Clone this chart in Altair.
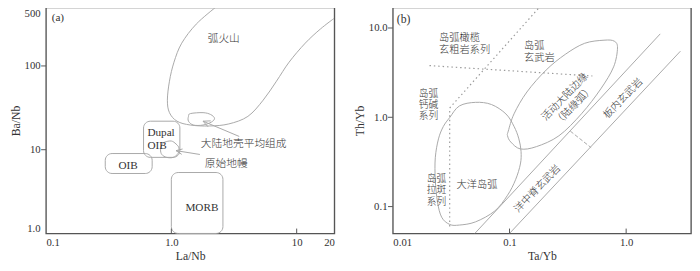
import altair as alt
import pandas as pd

SERIF = "Liberation Serif"
CJK = "Noto Sans CJK SC"
CJK_STACK = "Liberation Serif, Noto Sans CJK SC"
CURVE = "#a8a8a8"
DOT = "#9a9a9a"
INK = "#333333"
FRAME = "#555555"

W_A, W_B, H = 296, 306, 232

# ---------------- panel (a): La/Nb vs Ba/Nb ----------------
a_xdomain = [0.1, 20]
a_ydomain = [1, 500]
a_xticks = [0.1, 1, 10, 20]
a_xlabels = ["0.1", "1.0", "10", "20"]
a_yticks = [1, 10, 100, 500]
a_ylabels = ["1.0", "10", "100", "500"]
a_xmarks = [1, 10]
a_ymarks = [10, 100]

# arc volcanics field (open curve)
arc_x = [2.25, 1.58, 1.21, 1.05, 0.966, 0.93, 0.966, 1.11, 1.42, 2.02, 2.87, 4.08, 5.4, 6.9, 8.7, 11.7, 15.5, 19.9]
arc_y = [500, 316, 187, 111, 65.8, 39, 27.7, 21.9, 19.7, 19.2, 20.3, 25, 39, 65.8, 111, 187, 277, 370]

# average continental crust loop (closed)
crust_x = [1.42, 1.79, 2.06, 2.21, 2.09, 1.79, 1.50, 1.37, 1.37]
crust_y = [27.0, 27.7, 26.3, 23.7, 21.4, 19.7, 19.7, 21.9, 25.0]

# primitive mantle loop (closed)
mantle_x = [0.885, 1.0, 1.09, 1.15, 1.13, 1.035, 0.916, 0.839, 0.82, 0.839]
mantle_y = [12.3, 12.7, 11.7, 10.5, 9.0, 8.1, 8.1, 8.77, 10.0, 11.4]

# rounded boxes
box_names = ["Dupal OIB", "OIB", "MORB"]
box_x1 = [0.60, 0.297, 1.0]
box_x2 = [1.17, 0.703, 2.58]
box_y1 = [8.1, 5.2, 1.0]
box_y2 = [21.9, 9.0, 5.34]

# arrows (head polyline + shaft)
crust_head_x = [1.96, 1.79, 2.06]
crust_head_y = [18.8, 21.9, 22.1]
crust_shaft_x = [1.79, 3.48]
crust_shaft_y = [21.9, 14.4]
mantle_head_x = [1.21, 1.09, 1.23]
mantle_head_y = [8.8, 9.75, 10.2]
mantle_shaft_x = [1.09, 1.69]
mantle_shaft_y = [9.75, 8.77]

a_cjk_text = ["弧火山", "大陆地壳平均组成", "原始地幔"]
a_cjk_x = [1.95, 1.72, 1.85]
a_cjk_y = [208, 11.7, 6.76]

a_lat_text = ["(a)", "Dupal\nOIB", "OIB", "MORB"]
a_lat_x = [0.111, 0.644, 0.378, 1.295]
a_lat_y = [370, 15.6, 6.41, 2.03]

# ---------------- panel (b): Ta/Yb vs Th/Yb ----------------
b_xdomain = [0.01, 3.6]
b_ydomain = [0.05, 17]
b_xticks = [0.01, 0.1, 1]
b_xlabels = ["0.01", "0.1", "1.0"]
b_yticks = [0.1, 1, 10]
b_ylabels = ["0.1", "1.0", "10.0"]
b_xmarks = [0.1, 1]
b_ymarks = [0.1, 1, 10]

ocean_x = [0.0307, 0.0372, 0.0511, 0.070, 0.0932, 0.1094, 0.1203, 0.1256, 0.124, 0.1127, 0.0962,
           0.0748, 0.0511, 0.0372, 0.0307, 0.0262, 0.0241, 0.0231, 0.0231, 0.0246, 0.0271]
ocean_y = [0.993, 1.34, 1.47, 1.39, 1.09, 0.79, 0.573, 0.415, 0.300, 0.200, 0.134,
           0.0893, 0.0674, 0.0621, 0.0631, 0.076, 0.1137, 0.2, 0.352, 0.573, 0.79]

margin_x = [0.0962, 0.1025, 0.124, 0.170, 0.2655, 0.414, 0.606, 0.781, 0.843, 0.791, 0.646,
            0.441, 0.301, 0.206, 0.141, 0.1094, 0.0976]
margin_y = [0.621, 0.529, 0.442, 0.469, 0.621, 1.094, 2.08, 3.67, 5.97, 7.12, 7.30,
            6.74, 5.07, 3.38, 1.92, 1.094, 0.70]

# straight boundaries
lineA_x = [0.0504, 1.96]
lineA_y = [0.05, 8.59]
lineB_x = [0.1, 2.92]
lineB_y = [0.05, 5.5]
perp_x = [0.332, 0.501]
perp_y = [0.70, 0.457]
dotv_x = [0.0307, 0.0307, 0.18]
dotv_y = [0.060, 1.27, 17]
doth_x = [0.0206, 0.514]
doth_y = [3.79, 2.90]

b_cjk_text = ["岛弧橄榄\n玄粗岩系列", "岛弧\n玄武岩"]
b_cjk_x = [0.0249, 0.133]
b_cjk_y = [7.76, 6.31]

b_single_text = ["大洋岛弧"]
b_single_x = [0.0351]
b_single_y = [0.175]

b_stack_text = ["岛弧\n钙碱\n系列", "岛弧\n拉斑\n系列"]
b_stack_x = [0.0167, 0.0195]
b_stack_y = [1.82, 0.202]

b_rot_text = ["活动大陆边缘\n（陆缘弧）", "板内玄武岩", "洋中脊玄武岩"]
b_rot_x = [0.299, 0.944, 0.174]
b_rot_y = [1.69, 1.62, 0.158]

b_lat_text = ["(b)"]
b_lat_x = [0.0108]
b_lat_y = [12.7]


def label_expr(vals, labels):
    parts = [f"datum.value == {v} ? '{l}'" for v, l in zip(vals, labels)]
    return " : ".join(parts) + " : ''"


def make_enc(xdom, ydom, xt, xl, yt, yl, xtitle, ytitle):
    ax = dict(grid=False, domain=False, ticks=False, labelFont=SERIF, labelFontSize=11,
              titleFont=SERIF, titleFontSize=12, titleFontWeight="normal",
              labelColor=INK, titleColor=INK)
    X = alt.X("x:Q", scale=alt.Scale(type="log", domain=xdom, nice=False),
              axis=alt.Axis(values=xt, labelExpr=label_expr(xt, xl), title=xtitle,
                            labelFlush=True, labelPadding=3, titlePadding=4, **ax))
    Y = alt.Y("y:Q", scale=alt.Scale(type="log", domain=ydom, nice=False),
              axis=alt.Axis(values=yt, labelExpr=label_expr(yt, yl), title=ytitle,
                            labelFlush=True, labelPadding=6, titlePadding=2, **ax))
    return X, Y


def poly_df(shapes):
    rows = []
    for g, (xs, ys) in enumerate(shapes):
        for i, (x, y) in enumerate(zip(xs, ys)):
            rows.append({"g": g, "o": i, "x": x, "y": y})
    return pd.DataFrame(rows)


def text_layer(X, Y, texts, xs, ys, font, size, align="left", angle=0, weight="normal", lh=12):
    df = pd.DataFrame({"t": texts, "x": xs, "y": ys})
    return alt.Chart(df).mark_text(font=font, fontSize=size, align=align, baseline="middle",
                                   angle=angle, color=INK, fontWeight=weight,
                                   lineBreak="\n", lineHeight=lh).encode(
        x=X, y=Y, text="t:N")


def tick_layers(X, Y, xm, ym, h):
    xt = alt.Chart(pd.DataFrame({"x": xm})).mark_rule(color=FRAME, strokeWidth=1).encode(
        x=X, y=alt.value(h - 5), y2=alt.value(h))
    yt = alt.Chart(pd.DataFrame({"y": ym})).mark_rule(color=FRAME, strokeWidth=1).encode(
        y=Y, x=alt.value(-5), x2=alt.value(0))
    return xt, yt


# ---------- build panel (a) ----------
XA, YA = make_enc(a_xdomain, a_ydomain, a_xticks, a_xlabels, a_yticks, a_ylabels, "La/Nb", "Ba/Nb")

a_open = alt.Chart(poly_df([(arc_x, arc_y)])).mark_line(
    interpolate="cardinal", color=CURVE, strokeWidth=1, clip=True).encode(
    x=XA, y=YA, detail="g:N", order="o:Q")
a_closed = alt.Chart(poly_df([(crust_x, crust_y), (mantle_x, mantle_y)])).mark_line(
    interpolate="cardinal-closed", color=CURVE, strokeWidth=1, clip=True).encode(
    x=XA, y=YA, detail="g:N", order="o:Q")
a_arrows = alt.Chart(poly_df([(crust_head_x, crust_head_y), (crust_shaft_x, crust_shaft_y),
                              (mantle_head_x, mantle_head_y), (mantle_shaft_x, mantle_shaft_y)])).mark_line(
    color=CURVE, strokeWidth=1).encode(x=XA, y=YA, detail="g:N", order="o:Q")
a_boxes = alt.Chart(pd.DataFrame({"n": box_names, "x": box_x1, "x2": box_x2, "y": box_y1, "y2": box_y2})).mark_rect(
    filled=False, color=CURVE, strokeWidth=1, cornerRadius=7).encode(
    x=XA, x2="x2:Q", y=YA, y2="y2:Q")
a_xt, a_yt = tick_layers(XA, YA, a_xmarks, a_ymarks, H)

panel_a = alt.layer(
    a_open, a_closed, a_arrows, a_boxes, a_xt, a_yt,
    text_layer(XA, YA, a_cjk_text, a_cjk_x, a_cjk_y, CJK, 11, weight=300),
    text_layer(XA, YA, a_lat_text, a_lat_x, a_lat_y, SERIF, 11.5, lh=12.5),
).properties(width=W_A, height=H)

# ---------- build panel (b) ----------
XB, YB = make_enc(b_xdomain, b_ydomain, b_xticks, b_xlabels, b_yticks, b_ylabels, "Ta/Yb", "Th/Yb")

b_closed = alt.Chart(poly_df([(ocean_x, ocean_y), (margin_x, margin_y)])).mark_line(
    interpolate="cardinal-closed", color=CURVE, strokeWidth=1, clip=True).encode(
    x=XB, y=YB, detail="g:N", order="o:Q")
b_solid = alt.Chart(poly_df([(lineA_x, lineA_y), (lineB_x, lineB_y)])).mark_line(
    color=CURVE, strokeWidth=1, clip=True).encode(x=XB, y=YB, detail="g:N", order="o:Q")
b_dash = alt.Chart(poly_df([(perp_x, perp_y)])).mark_line(
    color=CURVE, strokeWidth=1, strokeDash=[4, 2]).encode(x=XB, y=YB, detail="g:N", order="o:Q")
b_dot = alt.Chart(poly_df([(dotv_x, dotv_y), (doth_x, doth_y)])).mark_line(
    color=DOT, strokeWidth=1.2, strokeDash=[1.5, 3], clip=True).encode(
    x=XB, y=YB, detail="g:N", order="o:Q")
b_xt, b_yt = tick_layers(XB, YB, b_xmarks, b_ymarks, H)

panel_b = alt.layer(
    b_closed, b_solid, b_dash, b_dot, b_xt, b_yt,
    text_layer(XB, YB, b_cjk_text, b_cjk_x, b_cjk_y, CJK_STACK, 10.5, weight=300, lh=12.5),
    text_layer(XB, YB, b_single_text, b_single_x, b_single_y, CJK, 10.5, weight=300),
    text_layer(XB, YB, b_stack_text, b_stack_x, b_stack_y, CJK_STACK, 10, weight=300, lh=11.5),
    text_layer(XB, YB, b_rot_text, b_rot_x, b_rot_y, CJK, 10.5, align="center", angle=314,
               weight=300, lh=13),
    text_layer(XB, YB, b_lat_text, b_lat_x, b_lat_y, SERIF, 12),
).properties(width=W_B, height=H)

chart = alt.hconcat(panel_a, panel_b, spacing=18).properties(
    padding={"top": -5, "left": 0, "right": 0, "bottom": 0}, background="white"
).configure_view(stroke=FRAME, strokeWidth=1.4)

chart.save("out.html", embed_options={"renderer": "svg", "actions": False})
